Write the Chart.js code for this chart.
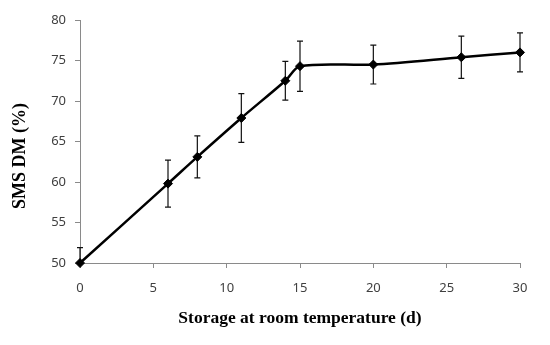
<!DOCTYPE html>
<html>
<head>
<meta charset="utf-8">
<script src="https://cdn.jsdelivr.net/npm/chart.js@4"></script>
<style>
  html, body { margin: 0; padding: 0; background: #fff; }
  #wrap { width: 550px; height: 345px; }
</style>
</head>
<body>
<div id="wrap"><canvas id="dmChart"></canvas></div>
<script>
// Storage days and SMS dry matter values
const days = [0, 6, 8, 11, 14, 15, 20, 26, 30];
const dmValues = [50.0, 59.8, 63.1, 67.9, 72.5, 74.3, 74.5, 75.4, 76.0];
const dmErrors = [1.9, 2.9, 2.6, 3.0, 2.4, 3.1, 2.4, 2.6, 2.4];
const xTicks = [0, 5, 10, 15, 20, 25, 30];
const yTicks = [50, 55, 60, 65, 70, 75, 80];

const axisGray = '#8a8a8a';
const labelColor = '#404040';

// draws vertical error bars with small caps, using the chart scales
const errorBars = {
    id: 'errorBars',
    beforeDatasetsDraw(chart) {
        const { ctx, chartArea, scales: { x, y } } = chart;
        ctx.save();
        ctx.beginPath();
        ctx.rect(chartArea.left - 10, chartArea.top - 10, chartArea.width + 20, chartArea.height + 10);
        ctx.clip();
        ctx.strokeStyle = '#111';
        ctx.lineWidth = 1.2;
        days.forEach((d, i) => {
            const px = x.getPixelForValue(d);
            const top = y.getPixelForValue(dmValues[i] + dmErrors[i]);
            const bot = y.getPixelForValue(dmValues[i] - dmErrors[i]);
            ctx.beginPath();
            ctx.moveTo(px, top);
            ctx.lineTo(px, bot);
            ctx.moveTo(px - 3, top);
            ctx.lineTo(px + 3, top);
            ctx.moveTo(px - 3, bot);
            ctx.lineTo(px + 3, bot);
            ctx.stroke();
        });
        ctx.restore();
    }
};

// y title sits a bit below the middle of the axis, like the original
const yTitle = {
    id: 'yTitle',
    afterDraw(chart) {
        const { ctx } = chart;
        ctx.save();
        ctx.translate(20, 156);
        ctx.rotate(-Math.PI / 2);
        ctx.font = 'bold 18px "Liberation Serif", "Times New Roman", serif';
        ctx.fillStyle = '#000';
        ctx.textAlign = 'center';
        ctx.textBaseline = 'middle';
        ctx.fillText('SMS DM (%)', 0, 0);
        ctx.restore();
    }
};

const ctx = document.getElementById('dmChart').getContext('2d');
const dmChart = new Chart(ctx, {
    type: 'scatter',
    data: {
        datasets: [{
            label: 'SMS DM',
            data: days.map((d, i) => ({ x: d, y: dmValues[i] })),
            showLine: true,
            borderColor: '#000',
            borderWidth: 2.5,
            tension: 0.3,
            pointStyle: 'rectRot',
            pointRadius: 4.5,
            pointBackgroundColor: '#000',
            pointBorderColor: '#000',
            pointBorderWidth: 1,
            clip: false
        }]
    },
    options: {
        responsive: true,
        maintainAspectRatio: false,
        animation: false,
        layout: { padding: { top: 20, right: 30, left: 0, bottom: 0 } },
        plugins: {
            legend: { display: false },
            tooltip: { enabled: false }
        },
        scales: {
            x: {
                type: 'linear',
                min: 0,
                max: 30,
                afterFit(scale) { scale.height = 82; },
                afterBuildTicks(scale) { scale.ticks = xTicks.map(v => ({ value: v })); },
                grid: { drawOnChartArea: false, drawTicks: true, tickLength: 5, color: axisGray },
                border: { color: axisGray, width: 1 },
                ticks: {
                    color: labelColor,
                    padding: 12,
                    maxRotation: 0,
                    font: { family: '"Noto Sans", "Open Sans", sans-serif', size: 13 }
                },
                title: {
                    display: true,
                    text: 'Storage at room temperature (d)',
                    color: '#000',
                    padding: { top: 0, bottom: 16 },
                    font: { family: '"Liberation Serif", "Times New Roman", serif', size: 17.5, weight: 'bold' }
                }
            },
            y: {
                min: 50,
                max: 80,
                afterFit(scale) { scale.width = 80; },
                afterBuildTicks(scale) { scale.ticks = yTicks.map(v => ({ value: v })); },
                grid: { drawOnChartArea: false, drawTicks: true, tickLength: 5, color: axisGray },
                border: { color: axisGray, width: 1 },
                ticks: {
                    color: labelColor,
                    padding: 9,
                    font: { family: '"Noto Sans", "Open Sans", sans-serif', size: 13 }
                }
            }
        }
    },
    plugins: [errorBars, yTitle]
});
</script>
</body>
</html>
